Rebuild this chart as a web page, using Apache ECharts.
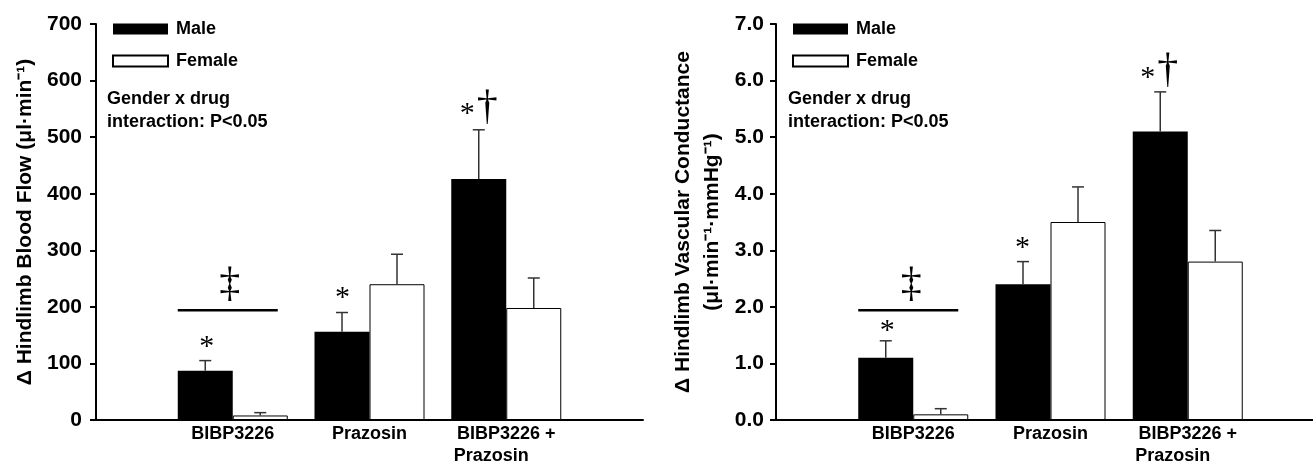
<!DOCTYPE html>
<html>
<head>
<meta charset="utf-8">
<script src="https://cdn.jsdelivr.net/npm/echarts@6/dist/echarts.min.js"></script>
<style>
  html, body { margin: 0; padding: 0; background: #fff; }
  #chart { width: 1313px; height: 464px; }
</style>
</head>
<body>
<div id="chart"></div>
<script>
// categories (first and last are empty spacers)
const categories = ['', 'BIBP3226', 'Prazosin', 'BIBP3226 +\nPrazosin      ', ''];

// hindlimb blood flow (ul/min)
const flowMale = ['-', 87, 156, 426, '-'];
const flowMaleSem = ['-', 18, 34, 87, '-'];
const flowFemale = ['-', 8, 240, 198, '-'];
const flowFemaleSem = ['-', 5, 53, 53, '-'];
const flowTicks = [0, 100, 200, 300, 400, 500, 600, 700];

// hindlimb vascular conductance
const condMale = ['-', 1.1, 2.4, 5.1, '-'];
const condMaleSem = ['-', 0.3, 0.4, 0.7, '-'];
const condFemale = ['-', 0.1, 3.5, 2.8, '-'];
const condFemaleSem = ['-', 0.1, 0.62, 0.55, '-'];
const condTicks = [0, 1, 2, 3, 4, 5, 6, 7];

// significance marks: category, value level, glyph, pixel shift from category
const flowMarks = [
  { cat: 1, y: 143, text: '*', dx: -26 },
  { cat: 1, y: 238, text: '‡', dx: -3 },
  { cat: 2, y: 230, text: '*', dx: -27 },
  { cat: 3, y: 555, text: '*', dx: -39 },
  { cat: 3, y: 551, text: '†', dx: -19 }
];
const condMarks = [
  { cat: 1, y: 1.71, text: '*', dx: -26 },
  { cat: 1, y: 2.39, text: '‡', dx: -2 },
  { cat: 2, y: 3.18, text: '*', dx: -28 },
  { cat: 3, y: 6.19, text: '*', dx: -40 },
  { cat: 3, y: 6.17, text: '†', dx: -20 }
];
const flowSigLine = { cat: 1, y: 194 };
const condSigLine = { cat: 1, y: 1.94 };

const BAR_W = 55;
const FONT = 'Liberation Sans, Arial, sans-serif';

function errData(mean, sem) {
  const out = [];
  mean.forEach((m, i) => {
    if (m !== '-') out.push([i, m, m + sem[i]]);
  });
  return out;
}

function errSeries(idx, mean, sem, dx) {
  return {
    type: 'custom',
    xAxisIndex: idx, yAxisIndex: idx,
    silent: true, z: 3,
    data: errData(mean, sem),
    renderItem: function (params, api) {
      const base = api.coord([api.value(0), api.value(1)]);
      const top = api.coord([api.value(0), api.value(2)]);
      const x = base[0] + dx;
      const st = { stroke: '#333', lineWidth: 1.5 };
      return {
        type: 'group',
        children: [
          { type: 'line', shape: { x1: x, y1: base[1], x2: x, y2: top[1] }, style: st },
          { type: 'line', shape: { x1: x - 6, y1: top[1], x2: x + 6, y2: top[1] }, style: st }
        ]
      };
    }
  };
}

function markSeries(idx, marks, sigLine) {
  return {
    type: 'custom',
    xAxisIndex: idx, yAxisIndex: idx,
    silent: true, z: 4,
    data: marks.map(m => [m.cat, m.y]),
    renderItem: function (params, api) {
      const m = marks[params.dataIndex];
      const p = api.coord([m.cat, m.y]);
      const star = m.text === '*';
      const children = [{
        type: 'text',
        x: p[0] + m.dx, y: p[1] + (star ? 8 : 0),
        style: {
          text: m.text,
          fontFamily: 'Liberation Serif, DejaVu Serif, serif',
          fontSize: star ? 30 : 42,
          fill: '#000',
          align: 'center', verticalAlign: 'middle'
        }
      }];
      if (params.dataIndex === 0) {
        const q = api.coord([sigLine.cat, sigLine.y]);
        children.push({
          type: 'line',
          shape: { x1: q[0] - 55, y1: q[1], x2: q[0] + 45, y2: q[1] },
          style: { stroke: '#000', lineWidth: 2.5 }
        });
      }
      return { type: 'group', children: children };
    }
  };
}

function yAxisOf(idx, ticks, name, gap, margin, fmt) {
  return {
    type: 'value', gridIndex: idx,
    min: ticks[0], max: ticks[ticks.length - 1], interval: ticks[1] - ticks[0],
    splitLine: { show: false },
    axisLine: { show: true, lineStyle: { color: '#000', width: 2 } },
    axisTick: { show: true, length: 6, lineStyle: { color: '#000', width: 2 } },
    axisLabel: { color: '#000', fontFamily: FONT, fontWeight: 'bold', fontSize: 21, margin: margin, formatter: fmt },
    name: name, nameLocation: 'middle', nameRotate: 90, nameGap: gap,
    nameTextStyle: { color: '#000', fontFamily: FONT, fontWeight: 'bold', fontSize: 21, lineHeight: 29 }
  };
}

function xAxisOf(idx) {
  return {
    type: 'category', gridIndex: idx, data: categories, boundaryGap: false,
    axisLine: { lineStyle: { color: '#000', width: 2 } },
    axisTick: { show: false },
    axisLabel: { color: '#000', fontFamily: FONT, fontWeight: 'bold', fontSize: 18, lineHeight: 22, margin: 3, interval: 0 }
  };
}

function legendOf(left) {
  return {
    orient: 'vertical', left: left, top: 15, itemWidth: 55, itemHeight: 11, itemGap: 14,
    icon: 'rect', data: ['Male', 'Female'], selectedMode: false,
    textStyle: { color: '#000', fontFamily: FONT, fontWeight: 'bold', fontSize: 18, padding: [0, 0, 0, 3] }
  };
}

const maleStyle = { color: '#000' };
const femaleStyle = { color: '#fff', borderColor: '#000', borderWidth: 1 };
const noteText = 'Gender x drug\ninteraction: P<0.05';

const chart = echarts.init(document.getElementById('chart'));
chart.setOption({
  animation: false,
  backgroundColor: '#fff',
  grid: [
    { left: 96, top: 24, width: 547, height: 396, outerBoundsMode: 'none' },
    { left: 776, top: 24, width: 549, height: 396, outerBoundsMode: 'none' }
  ],
  legend: [legendOf(107), legendOf(787)],
  graphic: [
    { type: 'text', left: 107, top: 88, style: { text: noteText, fill: '#000', font: 'bold 18px ' + FONT, lineHeight: 23 } },
    { type: 'text', left: 788, top: 88, style: { text: noteText, fill: '#000', font: 'bold 18px ' + FONT, lineHeight: 23 } }
  ],
  xAxis: [xAxisOf(0), xAxisOf(1)],
  yAxis: [
    yAxisOf(0, flowTicks, 'Δ Hindlimb Blood Flow (μl·min⁻¹)', 56, 14, v => v),
    yAxisOf(1, condTicks, 'Δ Hindlimb Vascular Conductance\n(μl·min⁻¹·mmHg⁻¹)', 49, 12, v => v.toFixed(1))
  ],
  series: [
    { name: 'Male', type: 'bar', xAxisIndex: 0, yAxisIndex: 0, data: flowMale, barWidth: BAR_W, barGap: '0%', itemStyle: maleStyle },
    { name: 'Female', type: 'bar', xAxisIndex: 0, yAxisIndex: 0, data: flowFemale, barWidth: BAR_W, barGap: '0%', itemStyle: femaleStyle },
    { name: 'Male', type: 'bar', xAxisIndex: 1, yAxisIndex: 1, data: condMale, barWidth: BAR_W, barGap: '0%', itemStyle: maleStyle },
    { name: 'Female', type: 'bar', xAxisIndex: 1, yAxisIndex: 1, data: condFemale, barWidth: BAR_W, barGap: '0%', itemStyle: femaleStyle },
    errSeries(0, flowMale, flowMaleSem, -BAR_W / 2),
    errSeries(0, flowFemale, flowFemaleSem, BAR_W / 2),
    errSeries(1, condMale, condMaleSem, -BAR_W / 2),
    errSeries(1, condFemale, condFemaleSem, BAR_W / 2),
    markSeries(0, flowMarks, flowSigLine),
    markSeries(1, condMarks, condSigLine)
  ]
});
</script>
</body>
</html>
